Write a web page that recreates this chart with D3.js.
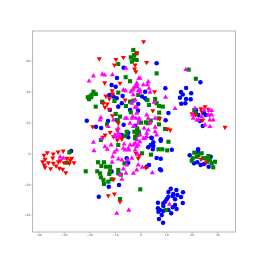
<!DOCTYPE html>
<html>
<head>
<meta charset="utf-8">
<script src="https://cdn.jsdelivr.net/npm/d3@7"></script>
<style>
html, body { margin:0; padding:0; background:#fff; }
svg { display:block; filter:blur(0.25px); }
</style>
</head>
<body>
<div id="chart"></div>
<script>
const xTicks = [-40,-30,-20,-10,0,10,20,30];
const yTicks = [-40,-20,0,20,40,60];
const xDomain = [-42.2, 37.1];
const yDomain = [-51.1, 79.4];

const redPoints = [[-16.1,61.4],[-9.6,61],[-6.7,62.3],[-10.2,57.3],[-2.1,57.3],[-2.3,54.7],[-1.8,53],[-8,45.5],[-14,45.8],[-11.1,40.6],[-10.9,38.5],[-13.5,37.2],[-12.2,35.5],[-14.5,32.5],[-13,32],[-13.9,29.9],[-12.2,28.6],[-6,34.6],[-11,24.4],[-18.7,17.3],[-11.9,13.6],[-13.8,11.9],[-14.8,10.4],[-8,10.8],[-9.1,15.1],[1.2,72.5],[2.4,59],[-1.5,65],[5.5,40],[4.8,27.7],[7.5,22.5],[10.5,15.8],[11.6,15.1],[25.2,30.3],[23.6,29],[26.5,28.6],[20.1,25.7],[23.9,27],[26.9,24.9],[24.3,21.6],[21.4,24.9],[33,16.9],[-37.7,-1.3],[-36.4,0.4],[-34.1,-0.5],[-32.2,0.8],[-30.2,1.5],[-37.3,-3.9],[-34.3,-3.1],[-38.2,-5.5],[-36,-6.1],[-34.1,-6.5],[-32.1,-5.5],[-31.4,-4.8],[-28.8,-3.2],[-26.9,-3.2],[-27.8,-6.5],[-26,-6.1],[-37.3,-9.1],[-37.6,-7.6],[-35.1,-10],[-33,-8.2],[-31.7,-9.7],[-30.4,-10.4],[-29.2,-12.6],[-29.9,-6.1],[-27.5,-4.4],[-10.5,-16.9],[-12.6,-27.5],[-10.2,-26.4],[-8,-31.4],[-9.1,8.6],[-7.3,9.7],[-10.6,10.8],[-8.7,19.5],[-1.8,0],[-0.9,-3.2],[-0.5,-1.6],[2.1,-9.4],[-7.3,9.3],[23.6,-3.9],[25.6,-6.1]];

const greenPoints = [[-2.8,67.1],[-1.5,65],[-3.8,62.3],[-2.5,61],[-1.5,60.6],[-3.4,59.5],[-2.5,63.8],[-8.7,58],[-5.8,49.4],[-4.1,46.8],[-8.7,39.4],[-18.4,40],[-17.5,38.5],[-19.1,37.9],[-19.7,36.8],[-20.6,36.4],[-19.3,36.4],[-20.1,35.1],[-17.5,30.3],[-9.3,21.6],[-9.7,25.5],[-8,23.8],[-8.9,21.2],[-13.1,18.8],[-15.5,8.6],[-15,33.5],[-10.2,34],[-5.7,30.7],[-4.1,33.5],[-2.8,34.2],[-3.8,26.6],[-0.9,37.9],[-1.1,14.5],[-2.4,14],[-2.1,10.8],[-0.6,13.6],[-8.7,5.4],[-5.4,14],[-6,11.2],[-1.3,11.9],[-2.1,9.7],[6.3,51.9],[2.7,34.6],[5.7,35.3],[6.3,32.5],[3.3,31.4],[7.2,30.7],[8.7,30.3],[7.3,26.4],[7.1,22.7],[4,21.2],[2.1,20.1],[0.2,19.9],[18.8,54.3],[21.6,48.4],[21,28.1],[21.7,25.5],[2.8,19.5],[7.2,18.8],[9.6,15.8],[-1.3,16.2],[10.9,7.5],[7,2.6],[8.5,2.6],[10.4,1.9],[4.1,-0.9],[0.6,0],[-0.1,-23.4],[10,-36.8],[21,0.4],[22,-2.2],[20.4,-3.2],[23.9,0],[24.5,-3.2],[26.5,-1.8],[27.1,-4.4],[25.6,-3.2],[29.1,-5.5],[27.8,-6.5],[28.4,-9.1],[20,-4.8],[22.6,-1.1],[26.1,-5.5],[-16.6,-5.8],[-14.3,-5.8],[-15.3,-8.2],[-13.5,-8.7],[-11.9,-8.7],[-21.4,-11.7],[-16.9,-11.7],[-15.8,-13],[-11.9,-11.3],[-12.2,-13.4],[-15.5,-15.6],[-14.5,-17.3],[-14.3,-19.9],[-12.6,-18.4],[-11.3,-16.9],[-8.7,-10.8],[-8.7,-13],[-7.7,-13.9],[-8,-29.7],[-27.8,0.6],[-28.8,-6.1],[-6.3,-6.5]];

const bluePoints = [[-6.6,55.6],[-9.2,48.9],[-11.3,44.4],[-9.7,43.2],[-14.9,33.1],[-12.2,37.9],[-10.6,36.8],[-9.3,35.7],[-7,37.2],[-7.3,32.5],[-8.7,30.3],[-4.1,28.1],[-1,27.7],[-21,21.2],[-17.4,17.3],[-15.4,16.4],[-12.7,21],[-12,28.1],[-6.6,18.6],[-4.8,10.4],[-0.9,32],[-1.5,14],[-7.3,11.9],[6.3,58.4],[9.7,42.2],[1.8,40],[0.6,36.8],[1.8,35.7],[2.4,34.6],[10.9,26.2],[9.8,21.4],[7.9,9.1],[4.2,10.1],[-2.1,17.9],[23.4,46.1],[17.8,42.4],[15.8,39.8],[16.5,38.1],[19.8,39],[15.4,36.1],[17.8,35.3],[19.6,35.1],[15.9,32.2],[17.5,32.5],[21.7,28.1],[22.6,24.9],[25.5,24.9],[23.2,21],[24.3,17.7],[24.8,26],[4.4,9.9],[7.9,8.2],[5,7.1],[4,5.4],[3,3.9],[5,4.7],[4.8,2.6],[12.2,2.3],[6.3,-3.1],[7.9,-3.5],[3.3,-7.6],[2.4,-8.7],[7.6,-10.4],[8,-11],[-0.6,13],[11.8,-23],[14,-23.8],[16.6,-25.3],[10.9,-25.1],[12.8,-26.4],[14.4,-27.1],[15.8,-28.4],[10.9,-28.2],[12.6,-27.7],[13.5,-29.9],[10.2,-29.9],[9.6,-31.4],[8.9,-32.5],[6.8,-32.1],[16.5,-32.3],[13.5,-33.6],[14.1,-36.2],[8.9,-34.2],[6.8,-35.7],[7.6,-36.8],[8.9,-37.5],[10.9,-36.8],[12,-39],[7,-37.9],[8.3,-40],[7.2,-42.7],[8.8,-45.1],[12.6,-35.1],[22.5,2.6],[22.5,0.8],[19.2,-1.3],[27.4,-2.2],[20.9,-6.5],[22.2,-5.8],[23.5,-7.6],[24.8,-6.9],[26.6,-8.7],[-12.4,-21.7],[-8.4,-20.6],[-16.3,-28.2],[-11.3,-11.9],[-5.4,-3.2],[-4.8,-6.1],[-27.1,1.5],[-4.8,13.4]];

const magentaPoints = [[17.7,54.3],[20.6,22.7],[22,21.6],[26.5,24.9],[27.8,24.9],[28.4,21.6],[27.1,21.6],[27.1,17.3],[25.2,18.4],[23.9,23.8],[21.3,29.2],[26.9,27.7],[27.8,27.7],[24.8,28.1],[22.6,21.6],[20.4,24.9],[-20.1,46.9],[-18.4,50.2],[-14.9,51.3],[-14,50.8],[-11,51],[-5.7,55.2],[-0.7,48.7],[-1.5,45.5],[-1.3,43.2],[-2.8,42.2],[-3.8,40],[-0.9,40.6],[-6.7,41.1],[-5.9,40.6],[-2.8,37.9],[-2.1,29.9],[-5.4,22.7],[-6,22.7],[-15.5,23.1],[-15.8,21.6],[-12.6,17.3],[-8.7,16.2],[-10,11.9],[-8.7,13],[-8.9,10.4],[-4.1,19.5],[-2.8,17.3],[-0.9,19.5],[-10.6,21.6],[-3,23.8],[-1.5,26],[-0.5,21.6],[-0.2,48.7],[-1.3,44.4],[1.1,44.4],[3,46.5],[2.7,44.4],[3.3,42.2],[-0.2,41.1],[-0.2,39.6],[-2.1,43.2],[-3,41.1],[3.7,39.6],[9.8,36.4],[5.3,33.1],[13.5,29],[-1.5,29.9],[-3.4,32.5],[-2.1,34.6],[5.7,22.7],[2.4,24.9],[3,22.7],[3.7,19.5],[1.4,16.2],[-0.6,22.7],[-1.8,22.7],[-2.5,17.3],[-0.2,11.9],[2.4,10.8],[5.7,16.9],[6.3,11.9],[1.8,9.7],[-3.4,22.7],[-18.4,7.1],[-18.2,1.7],[-13.9,4.3],[-13,2.6],[-15.2,9.7],[-11.5,5.4],[-9.3,2.1],[-10.2,0.6],[-11.1,-5.8],[-10.9,-2.2],[-8.7,-3.7],[-6.4,6],[-6,2.1],[-4.5,2.1],[-2.1,2.1],[-2.8,5.4],[-8,11.9],[-10,10.8],[-0.9,5.4],[-1.3,8.6],[-0.9,-7.6],[-1.5,-10.8],[-2.8,-13],[-5.7,-13],[-7.3,-16.9],[-9.3,-39],[-4.6,-37],[-3.4,-3.2],[-7.3,-4.4],[-1.1,-0.5],[-30.2,-3.2],[-31.4,-2.4],[4.6,-12.6],[0.7,-9.1],[-5.2,-4.4],[-5.4,-7.6],[-6.7,-10.2],[-0.2,7.5],[1.1,9.7],[-2.1,6.5],[-4.1,5.4],[-4.8,3.2],[-6.7,3.2],[-1.5,4.3],[3,15.1],[5.7,14],[2.4,13],[-8,-13.6],[11.3,-33.1]];

const width = 262, height = 262, margin = {top:31, right:26.5, bottom:30, left:32.5};

const svg = d3.select("#chart")
    .append("svg")
    .attr("width", width)
    .attr("height", height);

const xScale = d3.scaleLinear()
    .domain(xDomain)
    .range([margin.left, width-margin.right]);

const yScale = d3.scaleLinear()
    .domain(yDomain)
    .range([height-margin.bottom, margin.top]);

//markers, one group per class
const series = [
    {points:bluePoints, color:"#0000ff", type:d3.symbolCircle, size:16, rotate:0},
    {points:greenPoints, color:"#008000", type:d3.symbolSquare, size:17, rotate:0},
    {points:redPoints, color:"#ff0000", type:d3.symbolTriangle, size:11, rotate:180},
    {points:magentaPoints, color:"#ff00ff", type:d3.symbolTriangle, size:11, rotate:0}
];

series.forEach(s => {
    svg.append("g")
        .selectAll("path")
        .data(s.points)
        .enter()
        .append("path")
        .attr("d", d3.symbol().type(s.type).size(s.size))
        .attr("transform", d => `translate(${xScale(d[0])},${yScale(d[1])}) rotate(${s.rotate})`)
        .attr("fill", s.color);
});

//frame
svg.append("rect")
    .attr("x", margin.left)
    .attr("y", margin.top)
    .attr("width", width-margin.left-margin.right)
    .attr("height", height-margin.top-margin.bottom)
    .attr("fill", "none")
    .attr("stroke", "#a8a8a8")
    .attr("stroke-width", 0.8);

//x axis
const xAxis = svg.append("g")
    .attr("transform", `translate(0,${height-margin.bottom})`)
    .call(d3.axisBottom(xScale).tickValues(xTicks).tickSize(1.2).tickPadding(1));

//y axis
const yAxis = svg.append("g")
    .attr("transform", `translate(${margin.left},0)`)
    .call(d3.axisLeft(yScale).tickValues(yTicks).tickSize(1.2).tickPadding(1));

[xAxis, yAxis].forEach(a => {
    a.select(".domain").remove();
    a.selectAll("line").attr("stroke", "#777").attr("stroke-width", 0.4);
    a.selectAll("text")
        .attr("font-family", "DejaVu Sans")
        .attr("font-size", "3px")
        .attr("fill", "#555");
});
</script>
</body>
</html>
